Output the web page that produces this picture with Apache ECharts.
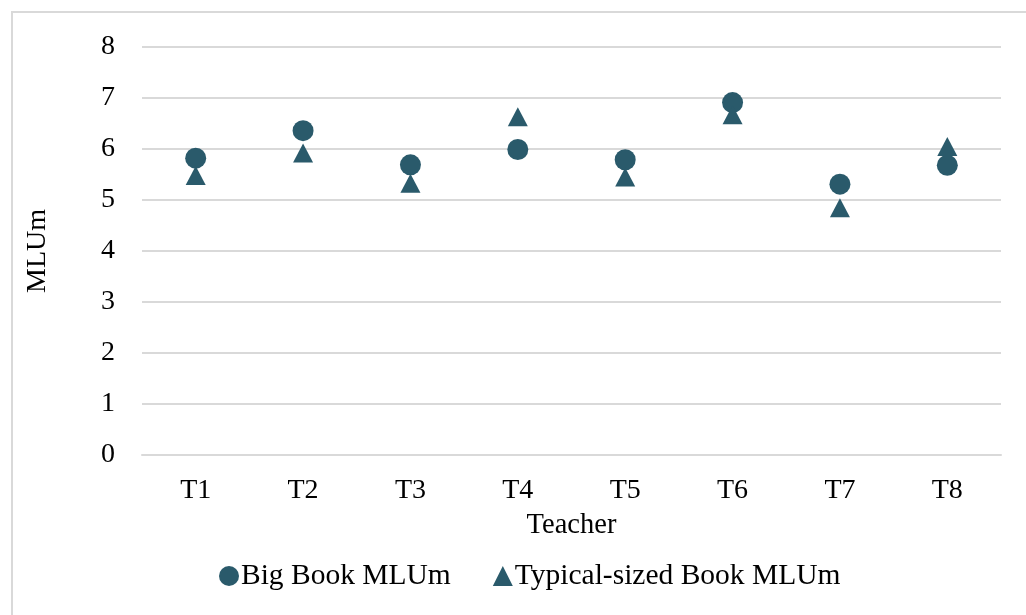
<!DOCTYPE html>
<html>
<head>
<meta charset="utf-8">
<script src="https://cdn.jsdelivr.net/npm/echarts@6/dist/echarts.min.js"></script>
<style>
  html, body { margin: 0; padding: 0; background: #fff; }
  #frame { position: absolute; left: 11px; top: 11px; width: 1030px; height: 620px;
           border-left: 2px solid #d9d9d9; border-top: 2px solid #d9d9d9; }
  #main { position: absolute; left: 0; top: 0; width: 1026px; height: 615px; }
</style>
</head>
<body>
<div id="frame"></div>
<div id="main"></div>
<script>
var teachers = ['T1', 'T2', 'T3', 'T4', 'T5', 'T6', 'T7', 'T8'];
var bigBook = [5.82, 6.36, 5.69, 5.99, 5.79, 6.91, 5.31, 5.68];
var typicalBook = [5.48, 5.92, 5.33, 6.63, 5.45, 6.67, 4.85, 6.05];

var markColor = '#2a5a6b';
var font = '"Liberation Serif", "Times New Roman", serif';

var chart = echarts.init(document.getElementById('main'));

var option = {
    textStyle: { fontFamily: font },
    grid: { left: 142, right: 25, top: 47, bottom: 160 },
    legend: {
        bottom: 19,
        left: 214,
        itemWidth: 20,
        itemHeight: 20,
        itemGap: 42,
        textStyle: { fontFamily: font, fontSize: 29.5, color: '#000', padding: [0, 0, 0, -3] },
        data: [
            { name: 'Big Book MLUm', icon: 'circle' },
            { name: 'Typical-sized Book MLUm', icon: 'triangle' }
        ]
    },
    xAxis: {
        type: 'category',
        data: teachers,
        name: 'Teacher',
        nameLocation: 'middle',
        nameGap: 56,
        nameTextStyle: { fontFamily: font, fontSize: 28.5, color: '#000' },
        axisLine: { lineStyle: { color: '#d9d9d9', width: 2 } },
        axisTick: { show: false },
        axisLabel: { fontFamily: font, fontSize: 28, color: '#000', margin: 22 }
    },
    yAxis: {
        type: 'value',
        min: 0,
        max: 8,
        interval: 1,
        name: 'MLUm',
        nameLocation: 'middle',
        nameGap: 90,
        nameTextStyle: { fontFamily: font, fontSize: 28, color: '#000' },
        axisLine: { show: false },
        axisTick: { show: false },
        axisLabel: { fontFamily: font, fontSize: 28, color: '#000', margin: 27 },
        splitLine: { lineStyle: { color: '#d9d9d9', width: 2 } }
    },
    series: [
        {
            name: 'Big Book MLUm',
            type: 'scatter',
            symbol: 'circle',
            symbolSize: 21,
            itemStyle: { color: markColor, opacity: 1 },
            data: bigBook
        },
        {
            name: 'Typical-sized Book MLUm',
            type: 'scatter',
            symbol: 'triangle',
            symbolSize: [20, 19],
            itemStyle: { color: markColor, opacity: 1 },
            data: typicalBook
        }
    ]
};

chart.setOption(option);
</script>
</body>
</html>
